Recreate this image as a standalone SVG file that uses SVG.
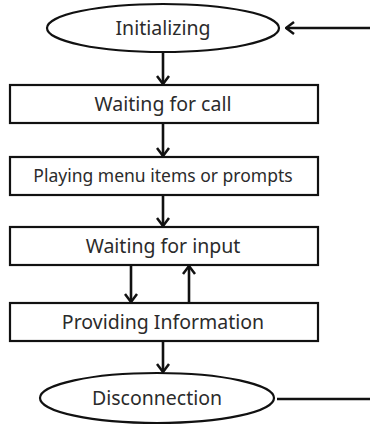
<svg xmlns="http://www.w3.org/2000/svg" width="370" height="427" viewBox="0 0 370 427">
  <style>
    .box { fill: #ffffff; stroke: #111111; stroke-width: 2.2; }
    .oval { fill: #ffffff; stroke: #111111; stroke-width: 2.2; }
    .label { font-family: "Noto Sans", "Open Sans", sans-serif; font-size: 19.5px; fill: #2b2b2b; text-anchor: middle; }
    .small { font-size: 17.5px; }
    .wire { fill: none; stroke: #111111; stroke-width: 2.6; }
  </style>
  <defs>
    <marker id="head" viewBox="0 0 10 14" refX="9" refY="7" markerWidth="10" markerHeight="14" markerUnits="userSpaceOnUse" orient="auto">
      <path d="M1,1 L9,7 L1,13" fill="none" stroke="#111111" stroke-width="2.5" stroke-linejoin="miter"/>
    </marker>
  </defs>
  <rect width="370" height="427" fill="#ffffff"/>

  <g id="connectors">
    <line class="wire" x1="163" y1="52" x2="163" y2="84" marker-end="url(#head)"/>
    <line class="wire" x1="163" y1="123" x2="163" y2="156" marker-end="url(#head)"/>
    <line class="wire" x1="163" y1="195" x2="163" y2="226" marker-end="url(#head)"/>
    <line class="wire" x1="131" y1="265" x2="131" y2="302" marker-end="url(#head)"/>
    <line class="wire" x1="189" y1="303" x2="189" y2="266" marker-end="url(#head)"/>
    <line class="wire" x1="163" y1="341" x2="163" y2="372" marker-end="url(#head)"/>
    <line class="wire" x1="370" y1="28" x2="286" y2="28" marker-end="url(#head)"/>
    <line class="wire" x1="277" y1="399" x2="370" y2="399"/>
  </g>

  <g id="initializing">
    <ellipse class="oval" cx="163" cy="28" rx="116" ry="24"/>
    <text class="label" x="163" y="35">Initializing</text>
  </g>
  <g id="waiting-call">
    <rect class="box" x="10" y="85" width="308" height="38"/>
    <text class="label" x="163" y="111">Waiting for call</text>
  </g>
  <g id="playing-menu">
    <rect class="box" x="10" y="157" width="308" height="38"/>
    <text class="label small" x="163" y="182">Playing menu items or prompts</text>
  </g>
  <g id="waiting-input">
    <rect class="box" x="10" y="227" width="308" height="38"/>
    <text class="label" x="163" y="253">Waiting for input</text>
  </g>
  <g id="providing-info">
    <rect class="box" x="10" y="303" width="308" height="38"/>
    <text class="label" x="163" y="329">Providing Information</text>
  </g>
  <g id="disconnection">
    <ellipse class="oval" cx="157" cy="398" rx="117" ry="25"/>
    <text class="label" x="157" y="405">Disconnection</text>
  </g>
</svg>
